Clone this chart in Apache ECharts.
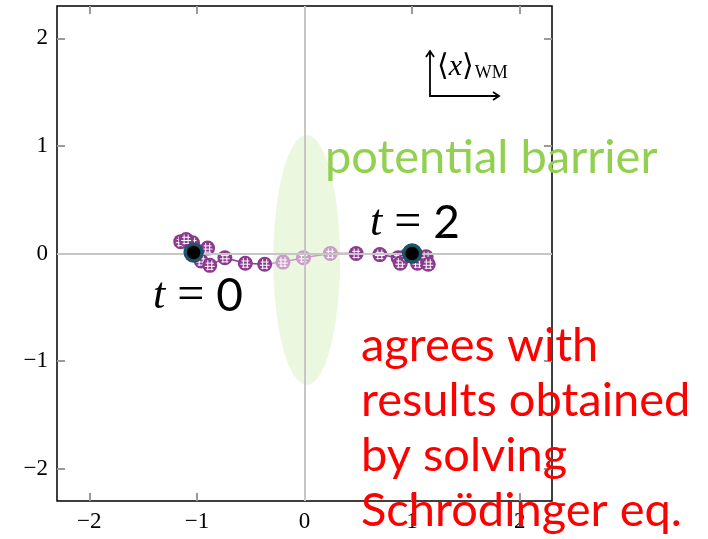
<!DOCTYPE html>
<html>
<head>
<meta charset="utf-8">
<script src="https://cdn.jsdelivr.net/npm/echarts@6/dist/echarts.min.js"></script>
<style>html,body{margin:0;padding:0;background:#fff}#c{width:708px;height:539px}</style>
</head>
<body>
<div id="c"></div>
<script>
// Trajectory of the wave-packet mean position (WM)
const trajX = [-1.04, -1.15, -1.10, -0.90, -0.96, -0.88, -0.74, -0.55, -0.37, -0.20, -0.01, 0.24, 0.48, 0.70, 0.87, 0.89, 0.95, 1.05, 1.13, 1.15];
const trajY = [0.10, 0.11, 0.13, 0.05, -0.07, -0.11, -0.04, -0.09, -0.10, -0.08, -0.04, 0.00, 0.00, -0.01, -0.04, -0.09, -0.02, -0.09, -0.03, -0.10];
const trajFaded = [0, 0, 0, 0, 0, 0, 0, 0, 0, 1, 1, 1, 0, 0, 0, 0, 0, 0, 0, 0];
const endX = [-1.03, 1.00];
const endY = [0.01, 0.00];
const barrier = { cx: 0.02, cy: -0.06, rx: 0.31, ry: 1.16 };
const tickVals = [-2, -1, 0, 1, 2];
const axisMin = -2.3, axisMax = 2.3;

const purple = '#8b3a8e', faded = '#c79cc7';
const markerData = trajX.map((x, i) => [x, trajY[i], trajFaded[i]]);
const segs = [[], [], []];
trajX.forEach((x, i) => {
  const g = i < 9 ? 0 : (i < 12 ? 1 : 2);
  segs[g].push([x, trajY[i]]);
});
segs[1].unshift(segs[0][segs[0].length - 1]);
segs[2].unshift(segs[1][segs[1].length - 1]);

const fmt = v => (v < 0 ? '\u2212' + Math.abs(v) : String(v));
const serif = '"Liberation Serif", "DejaVu Serif", serif';
const sans = 'Lato, "Open Sans", sans-serif';

function mkAxis(pos, showLabel) {
  return {
    type: 'value', position: pos, min: axisMin, max: axisMax,
    axisLine: { show: false, onZero: false },
    splitLine: { show: false },
    axisTick: { show: true, inside: true, length: 8, lineStyle: { color: '#9a9a9a', width: 2 }, customValues: tickVals },
    axisLabel: { show: showLabel, customValues: tickVals, formatter: v => fmt(v), fontFamily: serif, fontSize: 23, color: '#000', margin: 9 }
  };
}

const tRich = {
  i: { fontFamily: serif, fontStyle: 'italic', fontSize: 44, fill: '#000' },
  e: { fontFamily: serif, fontSize: 48, fill: '#000' },
  n: { fontFamily: sans, fontSize: 46, fill: '#000' }
};

const chart = echarts.init(document.getElementById('c'));
chart.setOption({
  animation: false,
  grid: { left: 57, top: 6, width: 495, height: 495, show: true, borderColor: '#000', borderWidth: 1.5, backgroundColor: 'transparent' },
  xAxis: [mkAxis('bottom', true), mkAxis('top', false)],
  yAxis: [mkAxis('left', true), mkAxis('right', false)],
  series: [
    {
      type: 'custom', z: 1, silent: true,
      data: [[barrier.cx, barrier.cy, barrier.rx, barrier.ry]],
      renderItem: (params, api) => {
        const c = api.coord([api.value(0), api.value(1)]);
        const e = api.coord([api.value(0) + api.value(2), api.value(1) + api.value(3)]);
        const rx = Math.abs(e[0] - c[0]), ry = Math.abs(e[1] - c[1]);
        const pts = [];
        for (let k = 0; k < 120; k++) {
          const a = k / 120 * Math.PI * 2;
          pts.push([c[0] + rx * Math.cos(a), c[1] + ry * Math.sin(a)]);
        }
        return { type: 'polygon', shape: { points: pts }, style: { fill: 'rgba(146,208,80,0.18)' } };
      }
    },
    {
      type: 'line', z: 2, data: [], silent: true,
      markLine: {
        silent: true, symbol: 'none', label: { show: false },
        lineStyle: { color: '#c6c6c6', width: 2, type: 'solid' },
        data: [{ xAxis: 0 }, { yAxis: 0 }]
      }
    },
    { type: 'line', z: 3, data: segs[0], symbol: 'none', lineStyle: { color: purple, width: 1.5 } },
    { type: 'line', z: 3, data: segs[1], symbol: 'none', lineStyle: { color: faded, width: 1.5 } },
    { type: 'line', z: 3, data: segs[2], symbol: 'none', lineStyle: { color: purple, width: 1.5 } },
    {
      type: 'custom', z: 4, data: markerData,
      renderItem: (params, api) => {
        const p = api.coord([api.value(0), api.value(1)]);
        const col = api.value(2) ? faded : purple;
        const r = 7.5;
        const ws = { stroke: '#fff', lineWidth: 1 };
        return {
          type: 'group',
          children: [
            { type: 'circle', shape: { cx: p[0], cy: p[1], r: r }, style: { fill: col } },
            { type: 'line', shape: { x1: p[0] - 4, y1: p[1] - 2.2, x2: p[0] + 4, y2: p[1] - 2.2 }, style: ws },
            { type: 'line', shape: { x1: p[0] - 5, y1: p[1] + 1, x2: p[0] + 5, y2: p[1] + 1 }, style: ws },
            { type: 'line', shape: { x1: p[0] - 3.5, y1: p[1] + 4, x2: p[0] + 3.5, y2: p[1] + 4 }, style: ws },
            { type: 'line', shape: { x1: p[0] - 2, y1: p[1] - 5, x2: p[0] - 2, y2: p[1] + 5 }, style: ws },
            { type: 'line', shape: { x1: p[0] + 2, y1: p[1] - 5, x2: p[0] + 2, y2: p[1] + 5 }, style: ws }
          ]
        };
      }
    },
    {
      type: 'scatter', z: 5, symbol: 'circle', symbolSize: 17,
      data: endX.map((x, i) => [x, endY[i]]),
      itemStyle: { color: '#000', borderColor: '#1d5468', borderWidth: 3.5, opacity: 1 }
    }
  ],
  graphic: [
    { type: 'text', left: 153, top: 272, z: 10, style: { rich: tRich, text: '{i|t}{e| = }{n|0}' } },
    { type: 'text', left: 370, top: 199, z: 10, style: { rich: tRich, text: '{i|t}{e| = }{n|2}' } },
    { type: 'text', left: 325, top: 134, z: 10, style: { text: 'potential barrier', fontFamily: sans, fontSize: 47, fill: '#92d050' } },
    { type: 'text', left: 361, top: 318, z: 10, style: { text: 'agrees with\nresults obtained\nby solving\nSchrödinger eq.', fontFamily: sans, fontSize: 47, lineHeight: 55, fill: '#ff0000' } },
    { type: 'polyline', z: 10, shape: { points: [[430, 52], [430, 96], [498, 96]] }, style: { stroke: '#000', lineWidth: 1.8, fill: null } },
    { type: 'polyline', z: 10, shape: { points: [[426, 57], [430, 51], [434, 57]] }, style: { stroke: '#000', lineWidth: 1.8, fill: null } },
    { type: 'polyline', z: 10, shape: { points: [[493, 92], [499, 96], [493, 100]] }, style: { stroke: '#000', lineWidth: 1.8, fill: null } },
    { type: 'text', left: 437, top: 52, z: 10, style: { rich: { a: { fontFamily: serif, fontSize: 30, fill: '#000' }, b: { fontFamily: serif, fontStyle: 'italic', fontSize: 30, fill: '#000' }, s: { fontFamily: serif, fontSize: 18, fill: '#000', padding: [12, 0, 0, 1] } }, text: '{a|\u27E8}{b|x}{a|\u27E9}{s|WM}' } }
  ]
});
</script>
</body>
</html>
